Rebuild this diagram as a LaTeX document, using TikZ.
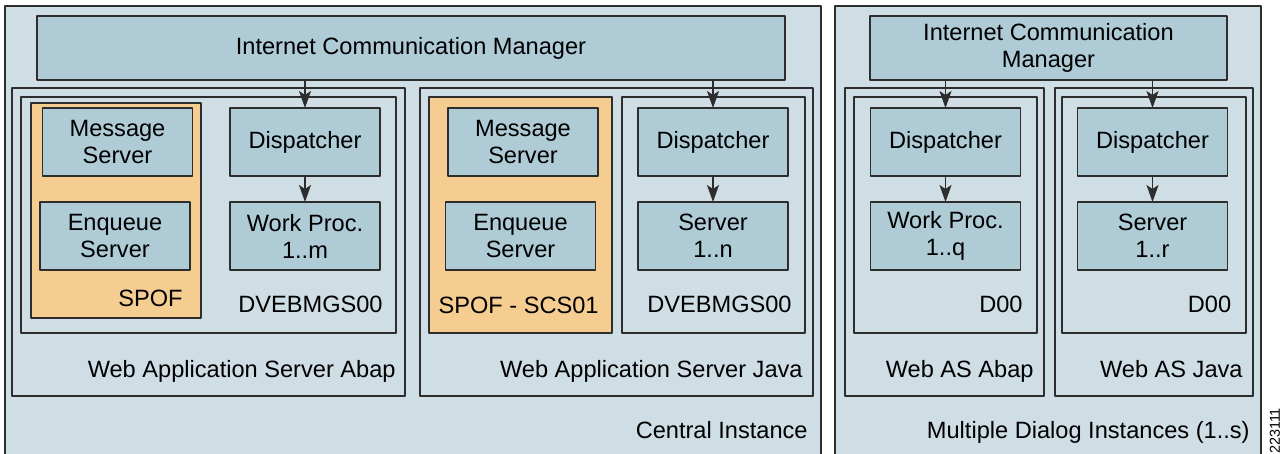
\documentclass[tikz,border=0pt]{standalone}
\usepackage{fontspec}
\setmainfont{Liberation Sans}
\usepackage{tikz}
\usetikzlibrary{arrows.meta,calc}

\definecolor{panelblue}{RGB}{207,221,229}
\definecolor{boxblue}{RGB}{174,203,214}
\definecolor{spoforange}{RGB}{245,205,145}
\definecolor{edgegray}{RGB}{45,45,45}

\begin{document}
\begin{tikzpicture}[>={Stealth[length=8.5bp,width=6bp,inset=2bp]},line join=bevel,
  every node/.style={font=\fontsize{11.8bp}{13.5bp}\selectfont},
  frame/.style={draw=edgegray,line width=0.65pt,fill=panelblue,inner sep=0pt,outer sep=0pt},
  spof/.style={frame,fill=spoforange},
  comp/.style={frame,fill=boxblue,align=center,minimum width=75bp,minimum height=34bp},
  lbl/.style={anchor=base east,inner sep=0pt},
  conn/.style={->,draw=edgegray,line width=0.65pt},
]
\useasboundingbox (0bp,0bp) rectangle (641bp,227bp);
%%
\node (ci) at (206.5bp,110bp) [frame,minimum width=408bp,minimum height=228bp] {};
  \node (mdi) at (524bp,110bp) [frame,minimum width=213bp,minimum height=228bp] {};
  \node (wasA) at (104.25bp,106bp) [frame,minimum width=196.5bp,minimum height=154bp] {};
  \node (wasJ) at (308.25bp,106bp) [frame,minimum width=196.5bp,minimum height=154bp] {};
  \node (webA) at (472.25bp,106bp) [frame,minimum width=99.5bp,minimum height=154bp] {};
  \node (webJ) at (577bp,106bp) [frame,minimum width=99bp,minimum height=154bp] {};
  \node (dvA) at (104.25bp,119.5bp) [frame,minimum width=187.5bp,minimum height=118bp] {};
  \node (spofA) at (58bp,121.75bp) [spof,minimum width=85bp,minimum height=107.5bp] {};
  \node (spofJ) at (260.25bp,119.5bp) [spof,minimum width=91.5bp,minimum height=118bp] {};
  \node (dvJ) at (356.75bp,119.5bp) [frame,minimum width=91.5bp,minimum height=118bp] {};
  \node (d00A) at (472.75bp,119.5bp) [frame,minimum width=91.5bp,minimum height=118bp] {};
  \node (d00J) at (577bp,119.5bp) [frame,minimum width=92bp,minimum height=118bp] {};
%
  \node (icmA) at (205.5bp,203bp) [comp,minimum width=374bp,minimum height=32bp] {Internet Communication Manager};
  \node (icmB) at (524.25bp,203bp) [comp,minimum width=178.5bp,minimum height=32bp] {Internet Communication\\Manager};
  \node (msgA) at (58.75bp,156bp) [comp] {Message\\Server};
  \node (enqA) at (57.5bp,109bp) [comp] {Enqueue\\Server};
  \node (dispA) at (152.5bp,156bp) [comp] {Dispatcher};
  \node (wpA) at (152.5bp,109bp) [comp] {Work Proc.\\1..m};
  \node (msgJ) at (261.5bp,156bp) [comp] {Message\\Server};
  \node (enqJ) at (260.25bp,109bp) [comp] {Enqueue\\Server};
  \node (dispJ) at (356.5bp,156bp) [comp] {Dispatcher};
  \node (srvJ) at (356.5bp,109bp) [comp] {Server\\1..n};
  \node (dispQ) at (472.75bp,156bp) [comp] {Dispatcher};
  \node (wpQ) at (472.75bp,109bp) [comp] {Work Proc.\\1..q};
  \node (dispR) at (576.25bp,156bp) [comp] {Dispatcher};
  \node (srvR) at (576.25bp,109bp) [comp] {Server\\1..r};
%
  \node (spofAl) at (91.5bp,73.5bp) [lbl] {SPOF};
  \node (dvAl) at (191.5bp,70.5bp) [lbl] {DVEBMGS00};
  \node (spofJl) at (299.5bp,70bp) [lbl] {SPOF - SCS01};
  \node (dvJl) at (396bp,70.5bp) [lbl] {DVEBMGS00};
  \node (d00Al) at (511.5bp,70.5bp) [lbl] {D00};
  \node (d00Jl) at (615.8bp,70.5bp) [lbl] {D00};
  \node (wasAl) at (198bp,38.5bp) [lbl] {Web Application Server Abap};
  \node (wasJl) at (401.5bp,38.5bp) [lbl] {Web Application Server Java};
  \node (webAl) at (517bp,38.5bp) [lbl] {Web AS Abap};
  \node (webJl) at (621.5bp,38.5bp) [lbl] {Web AS Java};
  \node (cil) at (404bp,8bp) [lbl] {Central Instance};
  \node (mdil) at (625bp,8bp) [lbl] {Multiple Dialog Instances (1..s)};
  \node (fig) at (637.5bp,11.5bp) [rotate=90,inner sep=0pt,font=\fontsize{7.2bp}{8bp}\selectfont] {223111};
%
  \draw [conn] (dispA.north |- icmA.south) -- (dispA);
  \draw [conn] (dispJ.north |- icmA.south) -- (dispJ);
  \draw [conn] (dispQ.north |- icmB.south) -- (dispQ);
  \draw [conn] (dispR.north |- icmB.south) -- (dispR);
  \draw [conn] (dispA) -- (wpA);
  \draw [conn] (dispJ) -- (srvJ);
  \draw [conn] (dispQ) -- (wpQ);
  \draw [conn] (dispR) -- (srvR);
%
\end{tikzpicture}
\end{document}
